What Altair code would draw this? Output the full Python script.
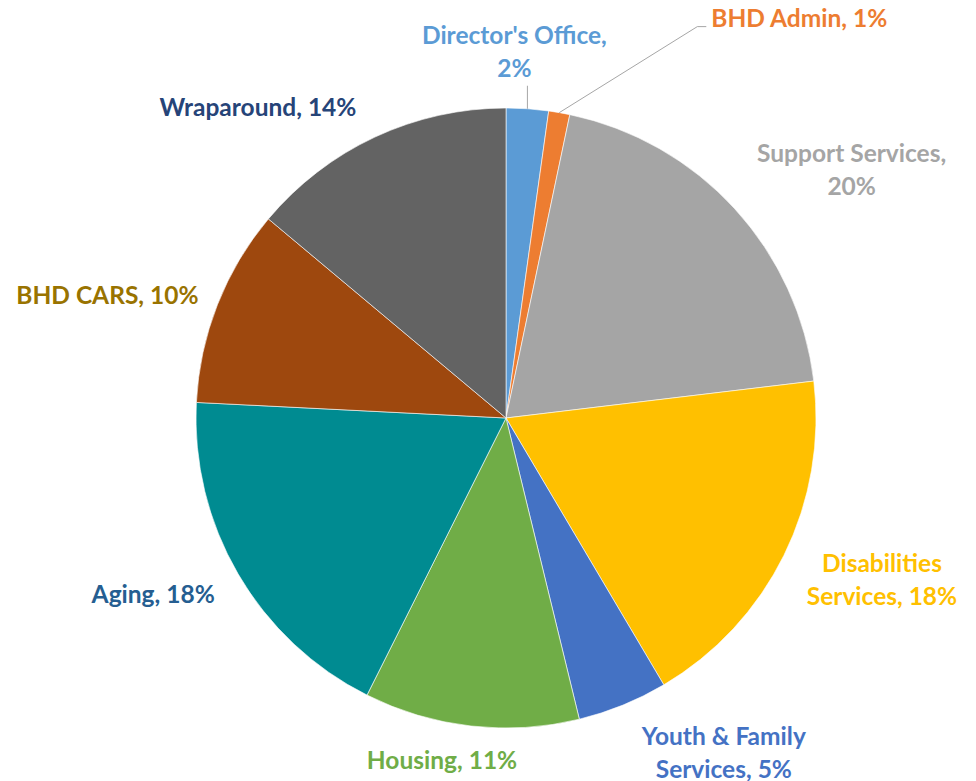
import math
import altair as alt
import pandas as pd

# ---- data ----
categories = ["Director's Office", "BHD Admin", "Support Services",
              "Disabilities Services", "Youth & Family Services", "Housing",
              "Aging", "BHD CARS", "Wraparound"]
shares = [2.2, 1.1, 19.8, 18.4, 4.7, 11.2, 18.4, 10.3, 13.9]
labels = ["Director's Office,\n2%", "BHD Admin, 1%", "Support Services,\n20%",
          "Disabilities\nServices, 18%", "Youth & Family\nServices, 5%",
          "Housing, 11%", "Aging, 18%", "BHD CARS, 10%", "Wraparound, 14%"]

# ---- style ----
slice_colors = ["#5B9BD5", "#ED7D31", "#A5A5A5", "#FFC000", "#4472C4",
                "#70AD47", "#008B91", "#9E480E", "#636363"]
label_colors = ["#5B9BD5", "#ED7D31", "#A5A5A5", "#FFC000", "#4472C4",
                "#70AD47", "#255E91", "#997300", "#264478"]
# offsets of the label's first line from the slice's mid point on the rim (px)
label_offsets = [(-13, -72), (240, -93), (117, -54), (98, 10), (101, 33),
                 (-29, 36), (-85, 22), (-110, -8), (-117, -28)]

CX, CY, R = 498, 410, 310
FONT = "Lato"
total = sum(shares)

df = pd.DataFrame({"idx": list(range(len(categories))), "cat": categories,
                   "value": shares, "label": labels})

# leader lines, derived from slice mid angles
mids = []
acc = 0.0
for v in shares:
    mids.append(2 * math.pi * (acc + v / 2) / total)
    acc += v
rows = []
a = mids[0]
x0, y0 = CX + R * math.sin(a), CY - R * math.cos(a)
rows += [{"cat": categories[0], "step": 0, "lx": x0, "ly": y0},
         {"cat": categories[0], "step": 1, "lx": x0, "ly": y0 - 23}]
a = mids[1]
x0, y0 = CX + R * math.sin(a), CY - R * math.cos(a)
lxc, lyc = x0 + label_offsets[1][0], y0 + label_offsets[1][1]
rows += [{"cat": categories[1], "step": 0, "lx": x0, "ly": y0},
         {"cat": categories[1], "step": 1, "lx": lxc - 102, "ly": lyc + 7},
         {"cat": categories[1], "step": 2, "lx": lxc - 93, "ly": lyc + 7}]
leader_df = pd.DataFrame(rows)

base = alt.Chart(df).transform_stack(
    stack="value", groupby=[], as_=["v0", "v1"], sort=[alt.SortField("idx")]
)

arcs = base.mark_arc(outerRadius=R, stroke="white", strokeWidth=0.6).encode(
    theta=alt.Theta("v0:Q", scale=alt.Scale(domain=[0, total])),
    theta2="v1:Q",
    color=alt.Color("cat:N", scale=alt.Scale(domain=categories, range=slice_colors),
                    legend=None),
    x=alt.value(CX),
    y=alt.value(CY),
)

leaders = alt.Chart(leader_df).mark_line(color="#A6A6A6", strokeWidth=1).encode(
    x=alt.X("lx:Q", scale=None, axis=None),
    y=alt.Y("ly:Q", scale=None, axis=None),
    detail="cat:N",
    order="step:Q",
)

texts = []
for i, cat in enumerate(categories):
    dx, dy = label_offsets[i]
    t = base.transform_filter(alt.datum.cat == cat).transform_calculate(
        mid=f"(datum.v0 + datum.v1) / 2 / {total} * 2 * PI"
    ).mark_text(
        radius=R, dx=dx, dy=dy, font=FONT, fontSize=24.5, fontWeight="bold",
        lineBreak="\n", lineHeight=33, color=label_colors[i],
        align="center", baseline="middle",
    ).encode(
        theta=alt.Theta("mid:Q", scale=None),
        text="label:N",
        x=alt.value(CX),
        y=alt.value(CY),
    )
    texts.append(t)

chart = alt.layer(arcs, leaders, *texts).properties(
    width=952, height=773, padding=0, autosize="none"
).configure_view(stroke=None)

chart.save("out.html", embed_options={"renderer": "svg", "actions": False})
